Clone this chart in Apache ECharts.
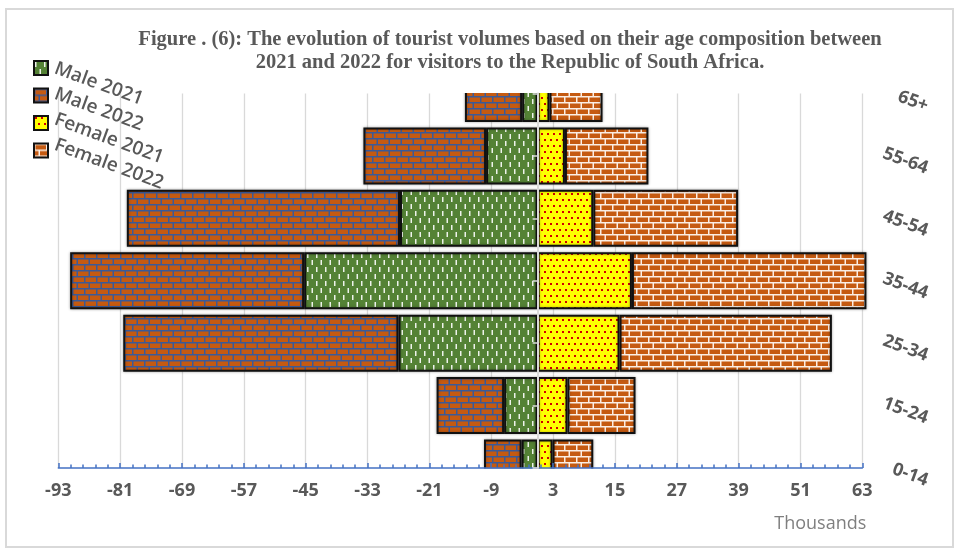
<!DOCTYPE html>
<html><head><meta charset="utf-8">
<script src="https://cdn.jsdelivr.net/npm/echarts@6/dist/echarts.min.js"></script>
<style>html,body{margin:0;padding:0;background:#fff}#c{width:959px;height:553px}</style>
</head><body><div id="c"></div>
<script>
// ---- data ----
const categories = ['0-14', '15-24', '25-34', '35-44', '45-54', '55-64', '65+'];
const seriesNames = ['Male 2021', 'Male 2022', 'Female 2021', 'Female 2022'];
// stacked segments (thousands); male values drawn to the left
const male2021 = [-3.1, -6.5, -27.0, -45.3, -26.7, -10.0, -3.0];
const male2022 = [-7.3, -13.1, -53.4, -45.4, -53.0, -23.8, -11.1];
const female2021 = [2.9, 5.8, 15.9, 18.3, 10.8, 5.3, 2.3];
const female2022 = [7.9, 13.2, 41.2, 45.5, 28.1, 16.2, 10.3];
const xMin = -93, xMax = 63, xStep = 12;
const titleText = 'Figure . (6): The evolution of tourist volumes based on their age composition between\n2021 and 2022 for visitors to the Republic of South Africa.';
const unitText = 'Thousands';

// ---- patterns ----
function tile(w, h, draw) {
  const c = document.createElement('canvas'); c.width = w; c.height = h;
  draw(c.getContext('2d')); return c;
}
const greenDash = tile(9, 14, g => {
  g.fillStyle = '#548235'; g.fillRect(0, 0, 9, 14);
  g.fillStyle = 'rgba(255,255,255,0.9)';
  g.fillRect(1, 1, 1.5, 5); g.fillRect(5.5, 8, 1.5, 5);
});
function brick(mortar, brickCol) {
  return tile(12, 12, g => {
    g.fillStyle = mortar; g.fillRect(0, 0, 12, 12);
    g.fillStyle = brickCol;
    g.fillRect(1.5, 1.5, 10.5, 4.5);
    g.fillRect(0, 7.5, 4.5, 4.5); g.fillRect(6, 7.5, 6, 4.5);
  });
}
const blueBrick = brick('#3b5a98', '#c55a11');
const whiteBrick = brick('#fbeee4', '#c55a11');
const yellowDot = tile(6, 12, g => {
  g.fillStyle = '#ffff00'; g.fillRect(0, 0, 6, 12);
  g.fillStyle = '#d00000';
  g.fillRect(1, 1, 2, 2); g.fillRect(4, 7, 2, 2);
});
const fills = [greenDash, blueBrick, yellowDot, whiteBrick];
const dataSets = [male2021, male2022, female2021, female2022];

const chart = echarts.init(document.getElementById('c'));
const gray = '#595959';
const font = '"Open Sans", sans-serif';
const tickStyle = { color: '#4472c4', width: 1.5 };

chart.setOption({
  animation: false,
  backgroundColor: '#fff',
  title: {
    text: titleText, left: 510, top: 28, padding: 0, textAlign: 'center',
    textStyle: { fontFamily: '"Liberation Serif", serif', fontWeight: 'bold', fontSize: 20.5, color: gray, lineHeight: 23 }
  },
  legend: {
    orient: 'vertical', left: 33, top: 60, padding: 0, itemWidth: 14, itemHeight: 14, itemGap: 11.5,
    icon: 'rect', formatter: () => '', selectedMode: false, z: 8,
    data: seriesNames
  },
  grid: { left: 58.3, right: 96.7, top: 93.5, bottom: 85, containLabel: false, outerBoundsMode: 'none' },
  xAxis: [
    {
      type: 'value', min: xMin, max: xMax, interval: xStep, z: 0,
      axisLine: { show: false, onZero: false }, axisTick: { show: false }, axisLabel: { show: false },
      splitLine: { show: true, lineStyle: { color: '#d9d9d9', width: 1.3 } }
    },
    {
      type: 'value', min: xMin, max: xMax, interval: xStep, position: 'bottom', z: 6,
      name: unitText, nameLocation: 'end', nameGap: 4,
      nameTextStyle: { align: 'right', verticalAlign: 'top', padding: [47, 0, 0, 0], fontFamily: font, fontSize: 18, color: '#7f7f7f' },
      axisLine: { show: true, onZero: false, lineStyle: tickStyle },
      axisTick: { show: true, inside: true, length: 5, lineStyle: tickStyle },
      minorTick: { show: true, splitNumber: 5, length: 3.5, lineStyle: tickStyle },
      axisLabel: { margin: 14, fontFamily: font, fontWeight: 'bold', fontSize: 18, color: gray, showMinLabel: true, showMaxLabel: true },
      splitLine: { show: false }
    }
  ],
  yAxis: [
    {
      type: 'category', data: categories, boundaryGap: false, position: 'right', z: 6,
      axisLine: { show: false, onZero: false }, axisTick: { show: false }, splitLine: { show: false },
      axisLabel: { rotate: -20, align: 'right', verticalAlign: 'top', lineHeight: 28, margin: 70,
        fontFamily: font, fontWeight: 'bold', fontSize: 18, color: gray }
    },
    {
      type: 'category', data: categories, boundaryGap: false, position: 'left', z: 10,
      axisLine: { show: true, onZero: true, onZeroAxisIndex: 0, lineStyle: { color: '#d9d9d9', width: 2 } },
      axisTick: { show: true, length: 5, lineStyle: { color: '#d9d9d9', width: 1.5 } },
      axisLabel: { show: false }, splitLine: { show: false }
    }
  ],
  series: seriesNames.map((name, i) => ({
    name, type: 'bar', stack: 'total', xAxisIndex: 0, yAxisIndex: 0, barWidth: 57, clip: false,
    itemStyle: { color: { image: fills[i], repeat: 'repeat' }, borderColor: '#111', borderWidth: 2,
      shadowColor: 'rgba(0,0,0,0.3)', shadowBlur: 3 },
    emphasis: { disabled: true },
    data: dataSets[i]
  }))
});

// masks that trim the first/last category bars at the plot edges (ECharts does not clip
// bars along a boundaryGap:false category axis)
const tl = chart.convertToPixel({ xAxisIndex: 0, yAxisIndex: 0 }, [xMin, categories[categories.length - 1]]);
const br = chart.convertToPixel({ xAxisIndex: 0, yAxisIndex: 0 }, [xMax, categories[0]]);
chart.setOption({
  graphic: [
    { type: 'rect', z: 0, shape: { x: 6, y: 9, width: 947, height: 538 }, style: { fill: 'none', stroke: '#d9d9d9', lineWidth: 2 }, silent: true },
    { type: 'rect', z: 3, shape: { x: tl[0] - 4, y: tl[1] - 40, width: br[0] - tl[0] + 12, height: 39.6 }, style: { fill: '#fff' }, silent: true },
    { type: 'rect', z: 3, shape: { x: tl[0] - 4, y: br[1] + 0.6, width: br[0] - tl[0] + 12, height: 40 }, style: { fill: '#fff' }, silent: true },
    ...seriesNames.map((n, i) => ({
      type: 'text', z: 10, x: 55, y: 68 + i * 25.5, rotation: -20 * Math.PI / 180, silent: true,
      style: { text: n, fontFamily: font, fontSize: 19, fontWeight: 600, fill: gray, textAlign: 'left', textVerticalAlign: 'middle' }
    }))
  ]
});
</script>
</body></html>
